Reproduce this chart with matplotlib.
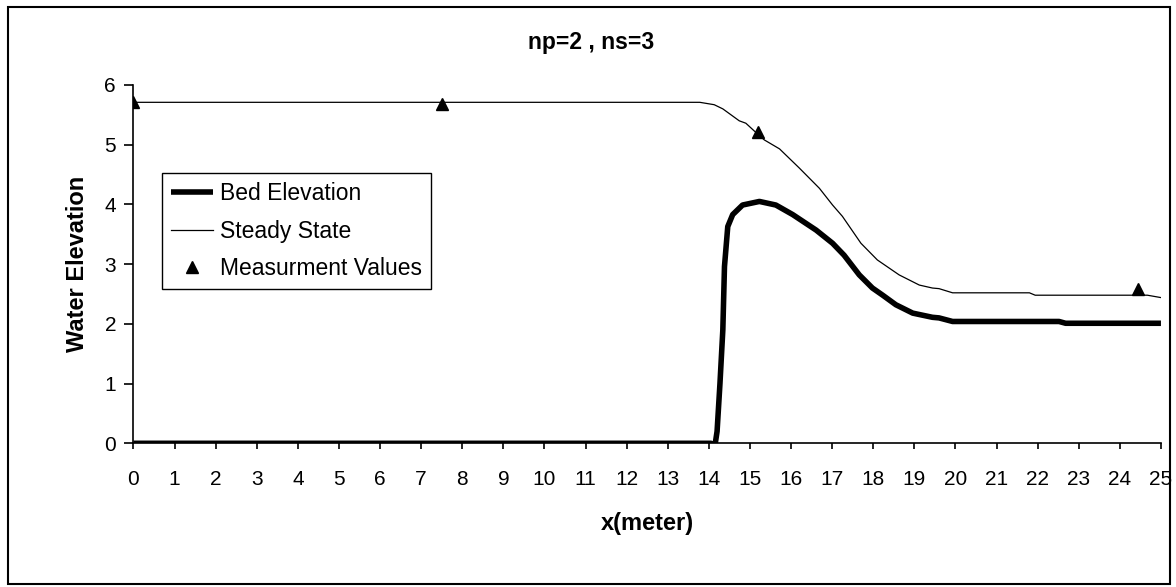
import matplotlib
matplotlib.use("Agg")
import matplotlib.pyplot as plt
from matplotlib.patches import Rectangle

plt.rcParams['font.family'] = ['Liberation Sans', 'DejaVu Sans']

# bed elevation along the channel
bed_x = [0, 14.05, 14.15, 14.2, 14.27, 14.34, 14.38, 14.46, 14.58, 14.82, 15.23,
         15.63, 16.04, 16.61, 17.01, 17.29, 17.66, 17.98, 18.23, 18.55, 18.96,
         19.44, 19.6, 19.93, 22.52, 22.68, 25]
bed_y = [0, 0, -0.03, 0.2, 1.0, 1.9, 2.96, 3.63, 3.83, 3.99, 4.05,
         3.99, 3.83, 3.57, 3.35, 3.15, 2.82, 2.60, 2.48, 2.32, 2.18,
         2.11, 2.10, 2.04, 2.04, 2.01, 2.01]

# steady state water surface
ss_x = [0, 13.78, 14.13, 14.34, 14.74, 14.90, 15.20, 15.35, 15.72, 16.2, 16.69,
        17.01, 17.25, 17.70, 18.10, 18.63, 19.12, 19.44, 19.6, 19.93, 21.8,
        21.94, 24.67, 25]
ss_y = [5.71, 5.71, 5.67, 5.60, 5.40, 5.36, 5.17, 5.08, 4.93, 4.61, 4.27,
        3.99, 3.80, 3.35, 3.07, 2.82, 2.65, 2.60, 2.59, 2.52, 2.52,
        2.48, 2.48, 2.44]

# measured points
meas_x = [0, 7.5, 15.2, 24.43]
meas_y = [5.71, 5.68, 5.21, 2.59]

x_ticks = list(range(0, 26))
y_ticks = list(range(0, 7))

fig = plt.figure(figsize=(11.76, 5.87), dpi=100)
ax = fig.add_axes([0.1135, 0.2448, 0.8737, 0.6104])

ax.plot(bed_x, bed_y, color='black', lw=4, label='Bed Elevation', solid_capstyle='butt')
ax.plot(ss_x, ss_y, color='black', lw=0.9, label='Steady State')
ax.plot(meas_x, meas_y, ls='none', marker='^', color='black', ms=8.5, label='Measurment Values')

ax.set_xlim(0, 25)
ax.set_ylim(0, 6)
ax.set_xticks(x_ticks)
ax.set_yticks(y_ticks)
ax.spines['top'].set_visible(False)
ax.spines['right'].set_visible(False)
ax.spines['left'].set_linewidth(1.2)
ax.spines['bottom'].set_linewidth(1.2)
ax.tick_params(axis='x', direction='out', length=4.5, width=1.2, pad=15, labelsize=15)
ax.tick_params(axis='y', direction='out', length=6.5, width=1.2, pad=6, labelsize=15)

ax.set_xlabel('x(meter)', fontsize=17, fontweight='bold', labelpad=16)
ax.set_ylabel('Water Elevation', fontsize=17, fontweight='bold', labelpad=11)
fig.text(0.503, 0.928, 'np=2 , ns=3', ha='center', va='center', fontsize=16.5, fontweight='bold')

leg = ax.legend(loc='upper left', bbox_to_anchor=(0.0274, 0.7536), borderaxespad=0,
                fontsize=16.5, fancybox=False, edgecolor='black', framealpha=1,
                handlelength=1.85, handletextpad=0.3, labelspacing=0.62,
                borderpad=0.4)
leg.get_frame().set_linewidth(1.0)

fig.patches.append(Rectangle((0.0064, 0.0051), 0.9885, 0.9835, transform=fig.transFigure,
                             fill=False, edgecolor='black', lw=1.5))

fig.savefig('out.png', dpi=100)
